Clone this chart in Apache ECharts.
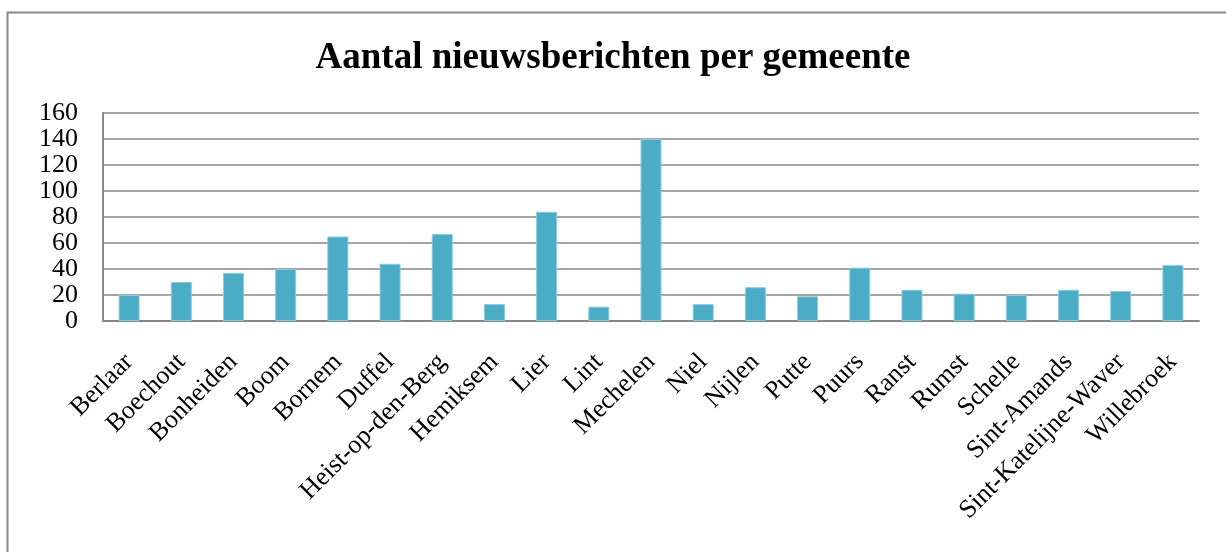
<!DOCTYPE html>
<html>
<head>
<meta charset="utf-8">
<script src="https://cdn.jsdelivr.net/npm/echarts@6/dist/echarts.min.js"></script>
<style>
html,body{margin:0;padding:0;background:#fff;}
#chart{width:1226px;height:552px;}
</style>
</head>
<body>
<div id="chart"></div>
<script>
var categories = ["Berlaar","Boechout","Bonheiden","Boom","Bornem","Duffel","Heist-op-den-Berg","Hemiksem","Lier","Lint","Mechelen","Niel","Nijlen","Putte","Puurs","Ranst","Rumst","Schelle","Sint-Amands","Sint-Katelijne-Waver","Willebroek"];
var values = [20,30,37,40,65,44,67,13,84,11,140,13,26,19,41,24,21,20,24,23,43];
var titleText = "Aantal nieuwsberichten per gemeente";
var yTicks = [0,20,40,60,80,100,120,140,160];

var chart = echarts.init(document.getElementById('chart'), null, {renderer:'canvas'});
var serif = '"Liberation Serif","DejaVu Serif",serif';
chart.setOption({
  animation:false,
  backgroundColor:'#ffffff',
  graphic:[{
    type:'rect', left:5, top:10, shape:{x:0,y:0,width:1240,height:600},
    style:{fill:'none',stroke:'#888888',lineWidth:2}, z:-1
  }],
  title:{
    text:titleText, left:'center', top:35,
    textStyle:{fontFamily:serif,fontWeight:'bold',fontSize:37,color:'#000'}
  },
  grid:{left:103,right:27,top:113,bottom:231,containLabel:false},
  xAxis:{
    type:'category', data:categories,
    axisLine:{show:true,lineStyle:{color:'#878787',width:2}},
    axisTick:{show:false},
    axisLabel:{interval:0,rotate:45,margin:37,fontFamily:serif,fontSize:26,color:'#000'}
  },
  yAxis:{
    type:'value', min:yTicks[0], max:yTicks[yTicks.length-1], interval:20,
    axisLine:{show:true,lineStyle:{color:'#878787',width:2}},
    axisTick:{show:false},
    splitLine:{show:true,lineStyle:{color:'#878787',width:1.5}},
    axisLabel:{margin:25,fontFamily:serif,fontSize:26,color:'#000'}
  },
  series:[{
    type:'bar', data:values, barWidth:21,
    itemStyle:{color:'#4BACC6',borderColor:'#8CCBDC',borderWidth:1}
  }]
});
</script>
</body>
</html>
